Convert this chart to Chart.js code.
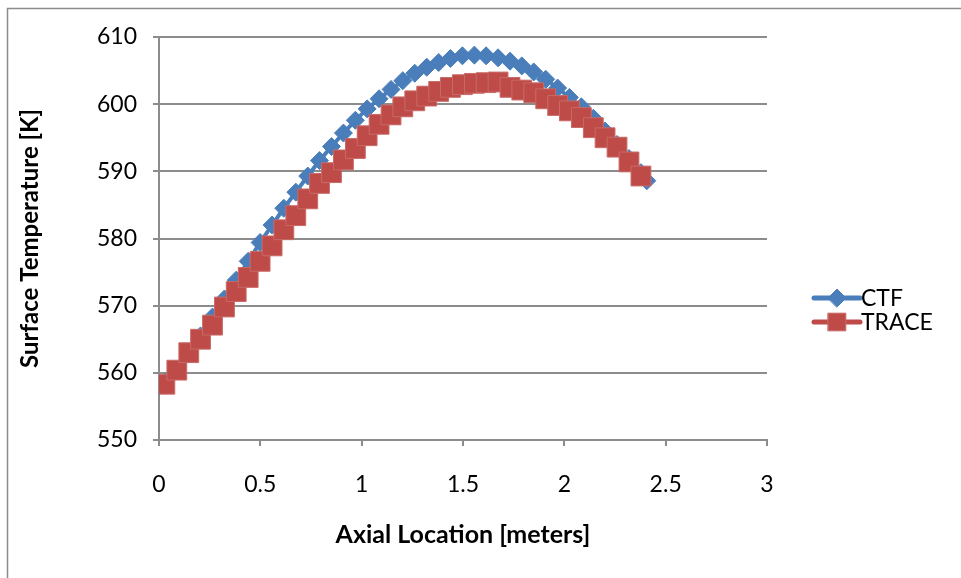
<!DOCTYPE html>
<html>
<head>
<meta charset="utf-8">
<script src="https://cdn.jsdelivr.net/npm/chart.js@4"></script>
<style>
  html, body { margin: 0; padding: 0; background: #fff; }
  #wrap { position: relative; width: 961px; height: 578px; }
</style>
</head>
<body>
<div id="wrap"><canvas id="chart" width="961" height="578"></canvas></div>
<script>
// axial location [m] and surface temperature [K]
const ctfX = [0, 0.029, 0.088, 0.147, 0.205, 0.264, 0.323, 0.381, 0.440, 0.499, 0.558, 0.616, 0.675, 0.734, 0.792,
  0.851, 0.910, 0.969, 1.027, 1.086, 1.145, 1.203, 1.262, 1.321, 1.380, 1.438, 1.497, 1.556, 1.614, 1.673,
  1.732, 1.790, 1.849, 1.908, 1.967, 2.025, 2.084, 2.143, 2.201, 2.260, 2.319, 2.378, 2.407];
const ctfT = [558.0, 558.6, 560.4, 562.8, 565.5, 568.3, 571.0, 573.8, 576.6, 579.4, 582.0, 584.5, 586.9, 589.3, 591.6,
  593.7, 595.7, 597.6, 599.3, 600.8, 602.2, 603.5, 604.6, 605.5, 606.2, 606.8, 607.2, 607.3, 607.2, 606.9,
  606.4, 605.7, 604.8, 603.7, 602.4, 601.0, 599.6, 597.9, 596.0, 594.0, 591.9, 589.8, 588.6];

const traceX = [0.029, 0.088, 0.147, 0.205, 0.264, 0.323, 0.381, 0.440, 0.499, 0.558, 0.616, 0.675, 0.734, 0.792,
  0.851, 0.910, 0.969, 1.027, 1.086, 1.145, 1.203, 1.262, 1.321, 1.380, 1.438, 1.497, 1.556, 1.614, 1.673,
  1.732, 1.790, 1.849, 1.908, 1.967, 2.025, 2.084, 2.143, 2.201, 2.260, 2.319, 2.378];
const traceT = [558.3, 560.4, 563.0, 565.0, 567.1, 569.8, 572.1, 574.2, 576.6, 578.9, 581.3, 583.4, 585.9, 588.2,
  589.8, 591.7, 593.4, 595.3, 597.0, 598.4, 599.6, 600.5, 601.2, 601.9, 602.5, 602.9, 603.1, 603.2, 603.3,
  602.5, 602.1, 601.7, 600.8, 599.8, 599.0, 598.0, 596.5, 595.0, 593.6, 591.4, 589.3];

const xTicks = [0, 0.5, 1, 1.5, 2, 2.5, 3];
const yTicks = [550, 560, 570, 580, 590, 600, 610];

const BLUE = '#4a7ebb';
const RED = '#be4b48';
const GRID = '#8c8c8c';
const FONT = 'Lato, "Open Sans", sans-serif';

const ctfPts = ctfX.map((x, i) => ({ x: x, y: ctfT[i] }));
const tracePts = traceX.map((x, i) => ({ x: x, y: traceT[i] }));

// frame + legend drawn by hand (line with marker through it, like the original)
const extras = {
  id: 'extras',
  beforeDraw(chart) {
    const c = chart.ctx;
    c.save();
    c.strokeStyle = GRID;
    c.lineWidth = 1.5;
    c.strokeRect(7.5, 8.5, 1200, 1200);
    c.restore();
  },
  afterDraw(chart) {
    const c = chart.ctx;
    const items = [
      { label: 'CTF', ds: chart.data.datasets[0], y: 298 },
      { label: 'TRACE', ds: chart.data.datasets[1], y: 322 }
    ];
    c.save();
    items.forEach(it => {
      c.strokeStyle = it.ds.borderColor;
      c.lineWidth = 5;
      c.lineCap = 'round';
      c.beginPath();
      c.moveTo(814, it.y);
      c.lineTo(860, it.y);
      c.stroke();
      c.fillStyle = it.ds.pointBackgroundColor;
      c.strokeStyle = it.ds.pointBorderColor;
      c.lineWidth = 1;
      Chart.helpers.drawPoint(c, {
        pointStyle: it.ds.pointStyle,
        radius: it.ds.pointStyle === 'rect' ? 12.5 : 9,
        borderWidth: 1
      }, 837, it.y);
      c.fillStyle = '#000';
      c.font = '23px ' + FONT;
      c.textBaseline = 'middle';
      c.textAlign = 'left';
      c.fillText(it.label, 861, it.y + 1);
    });
    c.restore();
  }
};

new Chart(document.getElementById('chart'), {
  type: 'scatter',
  data: {
    datasets: [
      {
        label: 'CTF',
        data: ctfPts,
        showLine: true,
        borderColor: BLUE,
        borderWidth: 4,
        pointStyle: 'rectRot',
        pointRadius: 9,
        pointBackgroundColor: BLUE,
        pointBorderColor: BLUE,
        pointBorderWidth: 1,
        order: 2
      },
      {
        label: 'TRACE',
        data: tracePts,
        showLine: true,
        borderColor: RED,
        borderWidth: 4,
        pointStyle: 'rect',
        pointRadius: 14,
        pointBackgroundColor: RED,
        pointBorderColor: '#c96a67',
        pointBorderWidth: 1,
        order: 1
      }
    ]
  },
  options: {
    responsive: false,
    animation: false,
    devicePixelRatio: 1,
    layout: { padding: { left: 0, top: 37, right: 194, bottom: 0 } },
    plugins: { legend: { display: false }, tooltip: { enabled: false } },
    scales: {
      x: {
        type: 'linear',
        min: 0, max: 3,
        afterFit: s => { s.height = 138; },
        afterBuildTicks: s => { s.ticks = xTicks.map(v => ({ value: v })); },
        ticks: {
          color: '#000', font: { family: FONT, size: 23 }, padding: 25, maxRotation: 0,
          callback: v => String(v)
        },
        grid: { drawOnChartArea: false, drawTicks: true, tickLength: 6, color: GRID, lineWidth: 2 },
        border: { color: GRID, width: 2 },
        title: {
          display: true, text: 'Axial Location [meters]', color: '#000',
          font: { family: FONT, size: 25, weight: 'bold' }, padding: { top: 0, bottom: 28 }
        }
      },
      y: {
        min: 550, max: 610,
        afterFit: s => { s.width = 159; },
        afterBuildTicks: s => { s.ticks = yTicks.map(v => ({ value: v })); },
        ticks: { color: '#000', font: { family: FONT, size: 23 }, padding: 16 },
        grid: { drawTicks: true, tickLength: 6, color: GRID, lineWidth: 2 },
        border: { color: GRID, width: 2 },
        title: {
          display: true, text: 'Surface Temperature [K]', color: '#000',
          font: { family: FONT, size: 24, weight: 'bold' }, padding: { top: 16, bottom: 0 }
        }
      }
    }
  },
  plugins: [extras]
});
</script>
</body>
</html>
